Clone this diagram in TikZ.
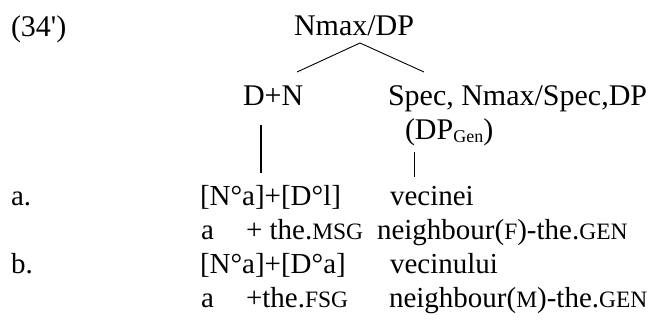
\documentclass[tikz,border=0pt]{standalone}
\usepackage{fontspec}
\setmainfont{Liberation Serif}[Ligatures=TeXOff]
\newcommand\smallcap[1]{{\fontsize{23.5}{23.5}\selectfont #1}}
\newcommand\lowsub[1]{\raisebox{-3.5pt}{\fontsize{18}{18}\selectfont #1}}
\begin{document}
\begin{tikzpicture}[x=1pt,y=-1pt,
  txt/.style={anchor=base west,inner sep=0pt,outer sep=0pt,font=\fontsize{30}{30}\selectfont},
  row/.style={anchor=base west,inner sep=0pt,outer sep=0pt,font=\fontsize{29}{29}\selectfont},
  branch/.style={line width=0.9pt},
  stem/.style={line width=1.8pt}]
\useasboundingbox (0,0) rectangle (652,325);

% example number and tree
\node[txt] (num)   at (11,36)  {(34')};
\node[txt] (root)  at (294,35) {Nmax/DP};
\node[txt] (dn)    at (243,105) {D+N};
\node[txt] (spec)  at (388,105) {Spec, Nmax/Spec,DP};
\node[txt] (dpgen) at (405,139) {(DP\lowsub{Gen})};

\coordinate (apex) at (360,43);
\coordinate (lend) at (297,72);
\coordinate (rend) at (424,72);
\draw[branch] (lend) -- (apex) -- (rend);

% row a
\node[row] (la)    at (11,205)  {a.};
\node[row] (forma) at (200,205) {[N°a]+[D°l]};
\node[row] (worda) at (390,205) {vecinei};
\node[row] (gla1)  at (201,239) {a};
\node[row] (gla2)  at (246,239) {+ the.\smallcap{MSG}};
\node[row] (gla3)  at (377,239) {neighbour(\smallcap{F})-the.\smallcap{GEN}};

% row b
\node[row] (lb)    at (11,273)  {b.};
\node[row] (formb) at (200,273) {[N°a]+[D°a]};
\node[row] (wordb) at (390,273) {vecinului};
\node[row] (glb1)  at (201,307) {a};
\node[row] (glb2)  at (246,307) {+the.\smallcap{FSG}};
\node[row] (glb3)  at (389,307) {neighbour(\smallcap{M})-the.\smallcap{GEN}};

% vertical links from the tree to row a
\coordinate (ltop) at (261,125);
\coordinate (lbot) at (261,173);
\coordinate (rtop) at (414,152);
\coordinate (rbot) at (414,177);
\draw[stem] (ltop) -- (lbot);
\draw[branch] (rtop) -- (rbot);
\end{tikzpicture}
\end{document}
